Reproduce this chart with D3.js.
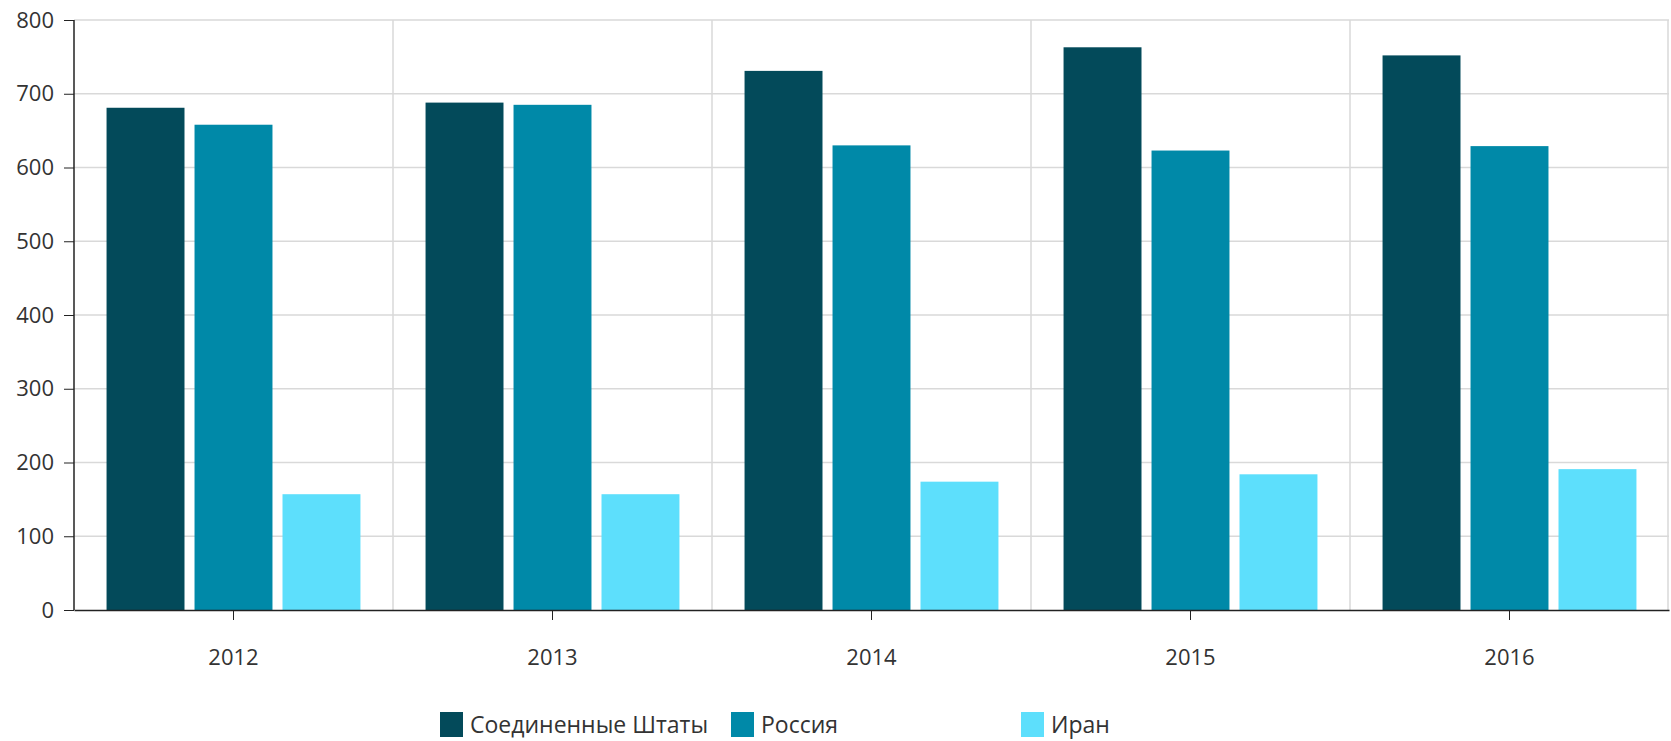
<!DOCTYPE html>
<html>
<head>
<meta charset="utf-8">
<script src="https://cdn.jsdelivr.net/npm/d3@7"></script>
<style>
  body { margin: 0; background: #fff; }
  svg { display: block; font-family: "Open Sans", sans-serif; }
  .axis text { fill: #333; font-size: 22px; font-family: "Open Sans", sans-serif; }
  .axis path, .axis line { stroke: #222; }
  .grid line { stroke: #d9d9d9; stroke-width: 1.5; }
</style>
</head>
<body>
<svg id="chart" width="1671" height="741"></svg>
<script>
const years = ['2012', '2013', '2014', '2015', '2016'];
const seriesNames = ['Соединенные Штаты', 'Россия', 'Иран'];
const usa = [681, 688, 731, 763, 752];
const russia = [658, 685, 630, 623, 629];
const iran = [157, 157, 174, 184, 191];
const yTicks = [0, 100, 200, 300, 400, 500, 600, 700, 800];
const colors = ['#034a5a', '#0089a8', '#5ddffc'];

const values = [usa, russia, iran];

const width = 1671, height = 741;
const margin = { top: 20, right: 2, bottom: 131, left: 74 };
const innerW = width - margin.left - margin.right;
const innerH = height - margin.top - margin.bottom;

const svg = d3.select('#chart');
const g = svg.append('g').attr('transform', `translate(${margin.left},${margin.top})`);

const x0 = d3.scaleBand().domain(years).range([0, innerW]).padding(0);
const x1 = d3.scaleBand()
  .domain(seriesNames)
  .range([0, x0.bandwidth()])
  .paddingInner(0.114)
  .paddingOuter(0.37);
const y = d3.scaleLinear().domain([0, 800]).range([innerH, 0]);

// horizontal grid
g.append('g')
  .attr('class', 'grid')
  .selectAll('line')
  .data(yTicks.slice(1))
  .enter()
  .append('line')
  .attr('x1', 0)
  .attr('x2', innerW)
  .attr('y1', d => y(d))
  .attr('y2', d => y(d));

// vertical grid between years + right edge
g.append('g')
  .attr('class', 'grid')
  .selectAll('line')
  .data(years.slice(1).map(d => x0(d)).concat([innerW - 1]))
  .enter()
  .append('line')
  .attr('x1', d => d)
  .attr('x2', d => d)
  .attr('y1', 0)
  .attr('y2', innerH);

// bars
const groups = g.append('g')
  .selectAll('g')
  .data(years)
  .enter()
  .append('g')
  .attr('transform', d => `translate(${x0(d)},0)`);

groups.selectAll('rect')
  .data((d, i) => seriesNames.map((s, j) => ({ s, j, v: values[j][i] })))
  .enter()
  .append('rect')
  .attr('x', d => x1(d.s))
  .attr('width', x1.bandwidth())
  .attr('y', d => y(d.v))
  .attr('height', d => innerH - y(d.v))
  .attr('fill', d => colors[d.j]);

// axes
g.append('g')
  .attr('class', 'axis')
  .call(d3.axisLeft(y).tickValues(yTicks).tickSize(10).tickPadding(10).tickSizeOuter(0))
  .call(a => a.select('.domain').attr('d', `M0,${innerH}V0`).attr('stroke-width', 1.5));

g.append('g')
  .attr('class', 'axis')
  .attr('transform', `translate(0,${innerH})`)
  .call(d3.axisBottom(x0).tickSize(10).tickPadding(29).tickSizeOuter(0))
  .call(a => a.select('.domain').attr('stroke-width', 1.5));

// legend
const legendX = [440, 731, 1021];
const legend = svg.append('g')
  .selectAll('g')
  .data(seriesNames)
  .enter()
  .append('g')
  .attr('transform', (d, i) => `translate(${legendX[i]},712)`);

legend.append('rect')
  .attr('width', 23)
  .attr('height', 25)
  .attr('fill', (d, i) => colors[i]);

legend.append('text')
  .attr('x', 30)
  .attr('y', 21)
  .attr('fill', '#333')
  .style('font-size', '23px')
  .text(d => d);
</script>
</body>
</html>
